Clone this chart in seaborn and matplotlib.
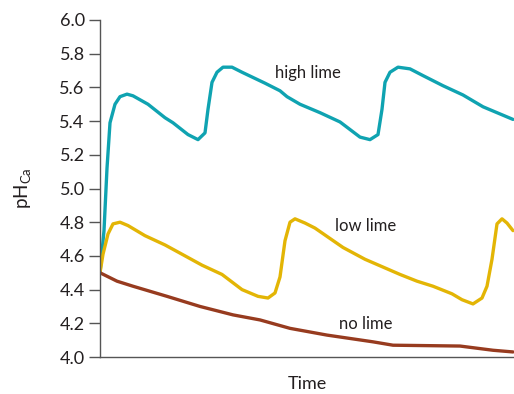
import matplotlib
matplotlib.use("Agg")
import matplotlib.pyplot as plt
import seaborn as sns
import pandas as pd

# time (arbitrary units) and pH values
high_t = [0, 4, 7, 10, 15, 20, 27, 33, 48, 65, 73, 88, 98, 105, 108, 112, 117, 123, 132, 142,
          165, 180, 187, 200, 220, 240, 250, 260, 270, 278, 282, 285, 290, 298, 310, 323, 343, 363, 383, 413]
high_v = [4.50, 4.75, 5.12, 5.39, 5.50, 5.545, 5.56, 5.55, 5.50, 5.42, 5.39, 5.32, 5.29, 5.33, 5.47, 5.63, 5.69, 5.72, 5.72, 5.69,
          5.625, 5.58, 5.545, 5.50, 5.45, 5.395, 5.35, 5.305, 5.29, 5.32, 5.47, 5.63, 5.69, 5.72, 5.71, 5.67, 5.61, 5.555, 5.485, 5.41]

low_t = [0, 3, 8, 13, 20, 28, 45, 65, 82, 102, 122, 142, 158, 168, 175, 180, 185, 190, 195, 205, 215,
         243, 265, 300, 317, 333, 352, 362, 373, 382, 387, 392, 397, 402, 407, 413]
low_v = [4.50, 4.61, 4.73, 4.79, 4.80, 4.78, 4.72, 4.665, 4.61, 4.545, 4.49, 4.40, 4.36, 4.35, 4.38, 4.475, 4.69, 4.80, 4.82, 4.795, 4.765,
         4.65, 4.58, 4.49, 4.45, 4.42, 4.375, 4.34, 4.315, 4.35, 4.42, 4.58, 4.79, 4.82, 4.795, 4.75]

no_t = [0, 17, 33, 67, 100, 133, 160, 190, 227, 273, 293, 360, 393, 413]
no_v = [4.50, 4.45, 4.42, 4.36, 4.30, 4.25, 4.22, 4.17, 4.13, 4.09, 4.07, 4.065, 4.04, 4.03]

series_names = ["high lime", "low lime", "no lime"]
series_colors = ["#0fa3b1", "#e3b505", "#973b1f"]
label_pos = [(208, 5.685), (266, 4.775), (266, 4.195)]

y_ticks = [4.0, 4.2, 4.4, 4.6, 4.8, 5.0, 5.2, 5.4, 5.6, 5.8, 6.0]

df = pd.concat([
    pd.DataFrame({"time": high_t, "ph": high_v, "series": "high lime"}),
    pd.DataFrame({"time": low_t, "ph": low_v, "series": "low lime"}),
    pd.DataFrame({"time": no_t, "ph": no_v, "series": "no lime"}),
])

sns.set_style("white")
plt.rcParams["font.family"] = ["Lato", "DejaVu Sans"]

fig = plt.figure(figsize=(5.14, 3.94), dpi=100)
ax = fig.add_axes([100 / 514, 37 / 394, 414 / 514, 337 / 394])

sns.lineplot(data=df, x="time", y="ph", hue="series", hue_order=series_names,
             palette=series_colors, linewidth=2.4, legend=False, ax=ax,
             estimator=None, sort=False)
for line in ax.get_lines():
    line.set_solid_capstyle("round")
    line.set_solid_joinstyle("round")

for name, (tx, ty) in zip(series_names, label_pos):
    ax.text(tx, ty, name, ha="center", va="center", fontsize=12, color="#231f20")

ax.set_xlim(0, 414)
ax.set_ylim(4.0, 6.0)
ax.set_yticks(y_ticks)
ax.set_yticklabels([f"{v:.1f}" for v in y_ticks], fontsize=13, color="#231f20")
ax.set_xticks([])
ax.tick_params(axis="y", direction="out", length=8, width=1, color="#555555", left=True, pad=3)

ax.set_ylabel("pH$_\\mathregular{Ca}$", fontsize=13.5, color="#231f20", labelpad=18)
ax.set_xlabel("Time", fontsize=13, color="#231f20", labelpad=14)

for s in ["top", "right"]:
    ax.spines[s].set_visible(False)
for s in ["left", "bottom"]:
    ax.spines[s].set_color("#555555")
    ax.spines[s].set_linewidth(1)

fig.savefig("out.png", dpi=100)
